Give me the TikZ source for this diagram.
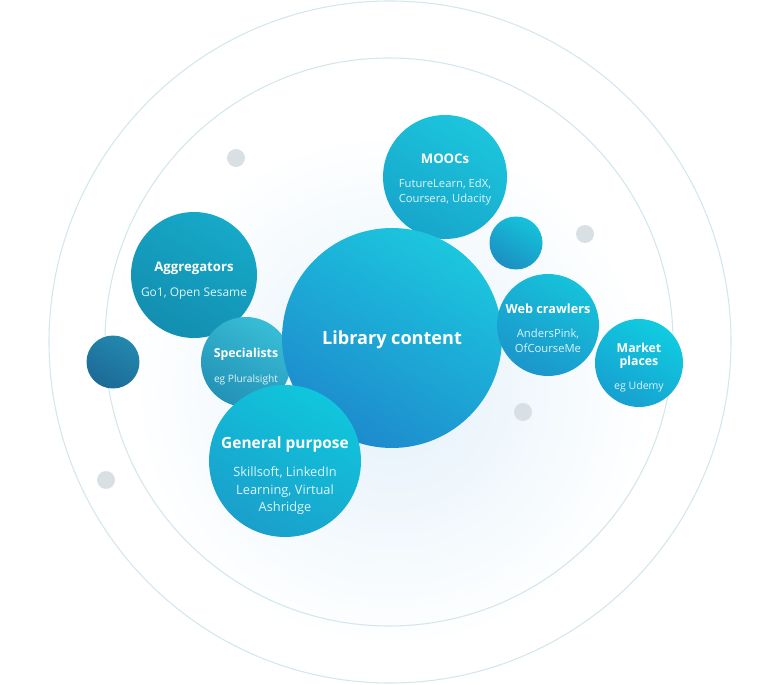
\documentclass[tikz,border=0pt]{standalone}
\usepackage{fontspec}
\setmainfont{Open Sans}
\usetikzlibrary{positioning}
\definecolor{ring}{HTML}{D3E6EC}
\definecolor{dotgrey}{HTML}{D9E0E4}
\definecolor{haze}{HTML}{E3F1FA}
\definecolor{subtxt}{HTML}{DDF4F9}
% bubble colours (light top, dark bottom)
\definecolor{smallA}{HTML}{15C2DA}   \definecolor{smallB}{HTML}{1C8FC2}
\definecolor{darkA}{HTML}{2388AE}    \definecolor{darkB}{HTML}{1C6A96}
\definecolor{moocsA}{HTML}{1CC5DC}   \definecolor{moocsB}{HTML}{17A6CB}
\definecolor{aggA}{HTML}{16A9C8}     \definecolor{aggB}{HTML}{138EB0}
\definecolor{specA}{HTML}{38BDD6}    \definecolor{specB}{HTML}{2392B6}
\definecolor{libA}{HTML}{1CC6DE}     \definecolor{libB}{HTML}{1D8ACD}
\definecolor{webA}{HTML}{16C2DA}     \definecolor{webB}{HTML}{1B96CB}
\definecolor{marketA}{HTML}{10CCE0}  \definecolor{marketB}{HTML}{17A0D0}
\definecolor{generalA}{HTML}{10C6DC} \definecolor{generalB}{HTML}{1A9FCB}
\tikzset{
  ring/.style={draw=ring, line width=0.6pt},
  bubble/.style={circle, top color=#1A, bottom color=#1B, shading angle=-30, inner sep=0pt},
  greydot/.style={circle, fill=dotgrey, inner sep=0pt, minimum size=0.36cm},
  title/.style={text=white, font=\bfseries\fontsize{7.5}{9}\selectfont, align=center},
  sub/.style={text=subtxt, font=\fontsize{6.4}{8.4}\selectfont, align=center},
}

\begin{document}
\begin{tikzpicture}[x=0.02cm, y=-0.02cm]
  \useasboundingbox (0,0) rectangle (760,685);

  % Haze and rings
  \shade[inner color=haze, outer color=white] (392,390) circle[radius=260];
  \draw[ring] (390,342) circle[radius=341];
  \draw[ring] (389,342) circle[radius=284];

  % Grey dots
  \node[greydot] (d1) at (236,158) {};
  \node[greydot] (d2) at (585,234) {};
  \node[greydot] (d3) at (523,412) {};
  \node[greydot] (d4) at (106,480) {};

  % Bubbles
  \node[bubble=small, minimum size=1.06cm] (small) at (516,243) {};
  \node[bubble=dark, minimum size=1.06cm] (dark) at (113,362) {};
  \node[bubble=moocs, minimum size=2.48cm] (moocs) at (445,177) {};
  \node[bubble=agg, minimum size=2.52cm] (agg) at (194,275) {};
  \node[bubble=spec, minimum size=1.8cm] (spec) at (246,362) {};
  \node[bubble=lib, minimum size=4.4cm] (lib) at (392,338) {};
  \node[bubble=web, minimum size=2.04cm] (web) at (548,325) {};
  \node[bubble=market, minimum size=1.76cm] (market) at (639,363) {};
  \node[bubble=general, minimum size=3.04cm] (general) at (285,461) {};

  % Labels
  \node[title, font=\bfseries\fontsize{10.3}{12}\selectfont] (libtxt) at (392,340) {Library content};
  \node[title] (moocstxt) at (445,159) {MOOCs};
  \node[sub, below=1.5pt of moocstxt] {FutureLearn, EdX,\\Coursera, Udacity};
  \node[title] (aggtxt) at (194,268) {Aggregators};
  \node[sub, font=\fontsize{6.8}{8.4}\selectfont, below=0.5pt of aggtxt] {Go1, Open Sesame};
  \node[title, font=\bfseries\fontsize{7}{9}\selectfont] (spectxt) at (246,354) {Specialists};
  \node[sub, font=\fontsize{5.8}{8}\selectfont, below=1pt of spectxt] {eg Pluralsight};
  \node[title, font=\bfseries\fontsize{7.2}{9}\selectfont] (webtxt) at (548,309) {Web crawlers};
  \node[sub, below=1.5pt of webtxt] {AndersPink,\\OfCourseMe};
  \node[title, font=\bfseries\fontsize{7}{7.2}\selectfont] (markettxt) at (639,356) {Market\\places};
  \node[sub, font=\fontsize{6}{8}\selectfont, below=0.5pt of markettxt] {eg Udemy};
  \node[title, font=\bfseries\fontsize{8.8}{10}\selectfont] (generaltxt) at (285,444) {General purpose};
  \node[sub, font=\fontsize{7.3}{10}\selectfont, below=1.5pt of generaltxt] {Skillsoft, LinkedIn\\Learning, Virtual\\Ashridge};
\end{tikzpicture}
\end{document}
